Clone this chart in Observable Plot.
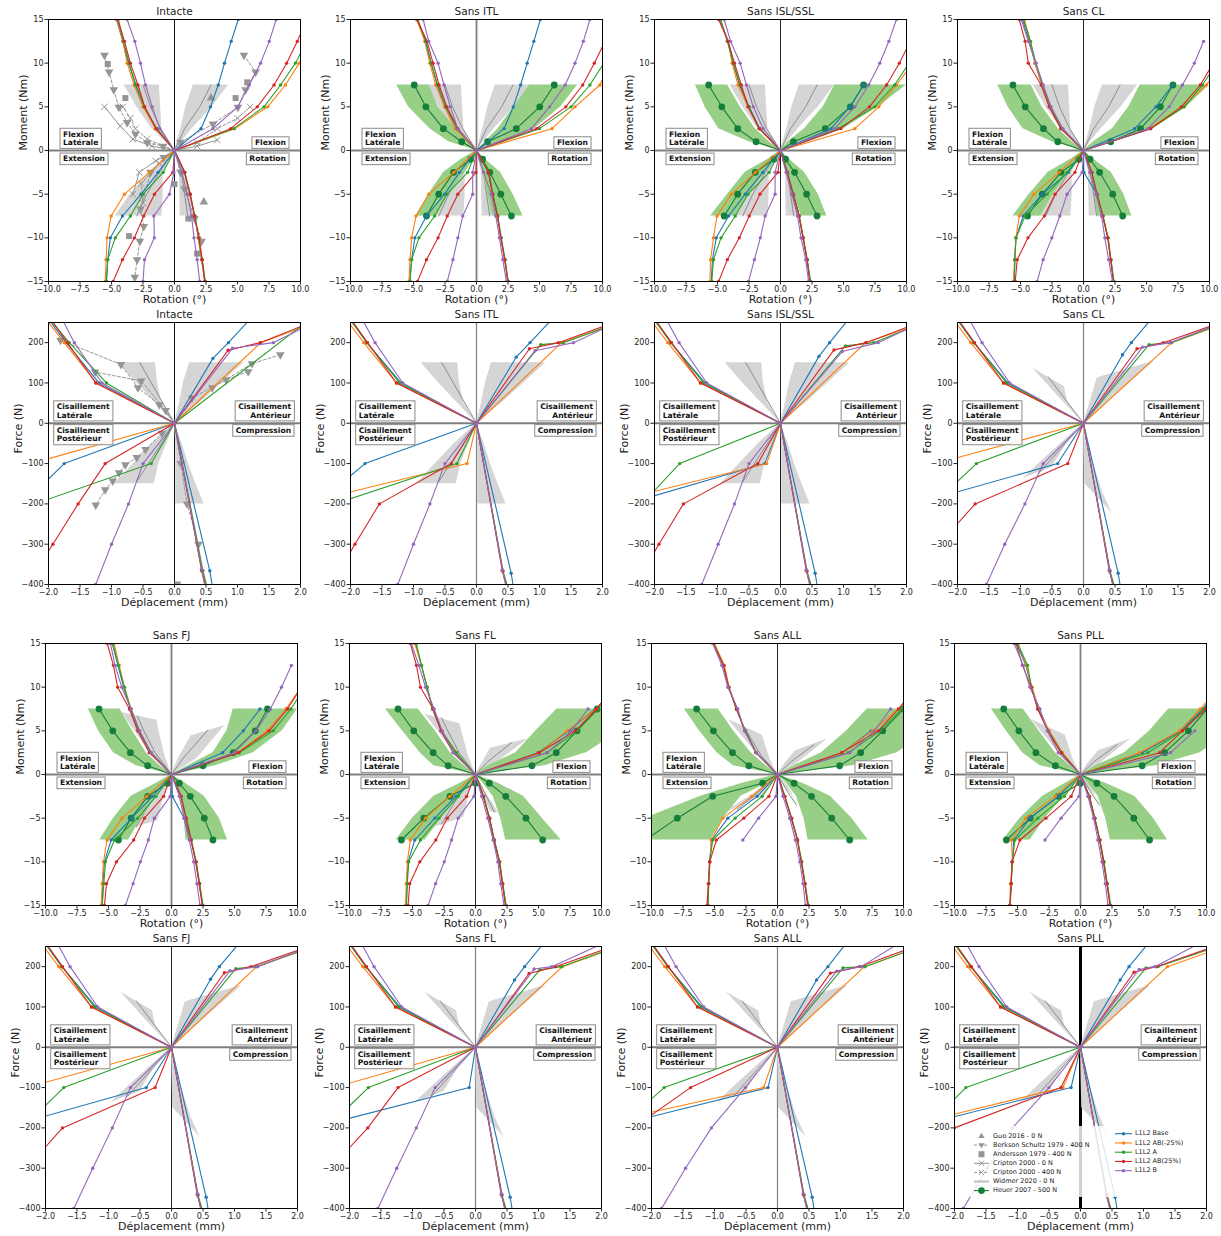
<!DOCTYPE html>
<html lang="fr"><head><meta charset="utf-8"><title>Courbes moment / force</title>
<script src="https://cdn.jsdelivr.net/npm/d3@7"></script>
<script src="https://cdn.jsdelivr.net/npm/@observablehq/plot@0.6"></script>
<style>
html,body{margin:0;padding:0;background:#fff;}
#root{position:relative;width:1221px;height:1236px;overflow:hidden;font-family:"DejaVu Sans",sans-serif;}
#root svg{position:absolute;}
</style></head><body><div id="root"></div>
<script>
// ---------------- labels / ticks ----------------
const modelNames = ["L1L2 Base","L1L2 AB(-25%)","L1L2 A","L1L2 AB(25%)","L1L2 B"];
const modelColors = ["#1f77b4","#ff7f0e","#2ca02c","#d62728","#9467bd"];
const litNames = ["Guo 2016 - 0 N","Berkson Schultz 1979 - 400 N","Andersson 1979 - 400 N","Cripton 2000 - 0 N","Cripton 2000 - 400 N","Widmer 2020 - 0 N","Heuer 2007 - 500 N"];
const rotationTicks = [-10,-7.5,-5,-2.5,0,2.5,5,7.5,10];
const momentTicks = [-15,-10,-5,0,5,10,15];
const dispTicks = [-2,-1.5,-1,-0.5,0,0.5,1,1.5,2];
const forceTicks = [-400,-300,-200,-100,0,100,200];
const momentLevels = [2.5,5,7.5,10,12.5,15];
const heuerLevels = [1,2.5,5,7.5];
const bandLevels = [0,1,2.5,5,7.5];
const momentBoxUp = ["Flexion\nLatérale","Flexion"];
const momentBoxDown = ["Extension","Rotation"];
const forceBoxUp = ["Cisaillement\nLatérale","Cisaillement\nAntérieur"];
const forceBoxDown = ["Cisaillement\nPostérieur","Compression"];

// ---------------- moment data (x at momentLevels; rows = models) ----------------
const intacte_FL = [[-1.45,-2.4,-3.05,-3.65,-4.1,-4.6],[-1.5,-2.5,-3.2,-3.76,-4.1,-4.56],[-1.4,-2.4,-3.1,-3.6,-4.05,-4.5],[-1.46,-2.36,-2.9,-3.5,-3.97,-4.48],[-1.17,-1.77,-2.3,-2.7,-3.15,-3.76]];
const intacte_EX = [[-1.3,-2.65,-4.13,-5.09,-5.3,-5.4],[-1.99,-3.97,-5.03,-5.35,-5.43,-5.5],[-0.9,-2.5,-3.5,-4.7,-5.3,-5.4],[-0.13,-1.59,-2.44,-3.18,-4.13,-4.87],[-0.05,-0.4,-1.64,-1.6,-2.38,-2.5]];
const intacte_FX = [[2.1,2.86,3.47,3.97,4.5,5.06],[4.77,7.4,8.8,9.9,11,12],[4.7,7.1,8.42,9.6,10.5,11.3],[4.45,6.57,7.9,8.9,9.75,10.5],[3.05,5.03,5.93,6.83,7.52,8.07]];
const intacte_RO = [[0.8,1.2,1.6,1.9,2.15,2.4],[0.8,1.2,1.6,1.88,2.15,2.42],[0.82,1.25,1.62,1.92,2.2,2.45],[0.8,1.25,1.58,1.95,2.2,2.4],[0.6,1.0,1.35,1.55,1.8,2.0]];

const itl_FL = [[-1.5,-2.45,-3.1,-3.6,-4.0,-4.7],[-1.7,-2.53,-3.24,-3.71,-4.1,-4.75],[-1.55,-2.45,-3.1,-3.6,-4.05,-4.65],[-1.48,-2.35,-2.97,-3.45,-3.92,-4.73],[-1.48,-2.08,-2.58,-3.05,-3.79,-4.23]];
const itl_EX = [[-1.35,-2.53,-3.97,-4.89,-5.15,-5.28],[-1.8,-3.79,-4.8,-5.15,-5.28,-5.36],[-0.7,-2.35,-3.32,-4.57,-5.15,-5.28],[-0.04,-1.48,-2.32,-3.05,-3.97,-4.68],[-0.3,-0.3,-1.09,-1.48,-1.87,-2.32]];
const itl_FX = [[2.19,2.92,3.5,4.02,4.55,5.07],[5.99,7.82,9.79,10.6,11.5,12.5],[5.0,7.5,9.0,10.1,11,12],[4.76,7.09,8.43,9.35,10.2,11],[4.36,5.8,7.04,7.82,8.48,9.0]];
const itl_RO = [[0.96,1.27,1.66,1.93,2.24,2.5],[0.96,1.27,1.66,1.93,2.24,2.5],[0.98,1.3,1.7,1.97,2.27,2.52],[0.95,1.27,1.66,1.93,2.24,2.48],[0.56,1.17,1.53,1.82,2.09,2.37]];

const isl_FL = [[-1.65,-2.5,-3.25,-3.75,-4.15,-4.8],[-1.69,-2.58,-3.37,-3.84,-4.16,-4.85],[-1.65,-2.5,-3.2,-3.75,-4.22,-4.75],[-1.69,-2.58,-3.11,-3.65,-4.16,-4.91],[-1.37,-2.16,-2.7,-3.2,-3.96,-4.47]];
const isl_EX = [[-1.4,-2.8,-4.12,-5.1,-5.4,-5.5],[-2.0,-3.9,-5.04,-5.32,-5.55,-5.6],[-0.9,-2.58,-3.59,-4.72,-5.32,-5.45],[-0.2,-1.63,-2.48,-3.27,-4.22,-4.91],[-0.43,-0.43,-1.22,-1.6,-2.07,-2.54]];
const isl_FX = [[4.0,5.5,6.6,null,null,null],[5.9,7.8,9.2,10.5,11.5,12.5],[4.57,7.47,9.05,10.2,11.2,12],[4.79,7.06,8.42,9.43,10.3,11],[4.3,5.9,7.0,7.88,8.6,9.2]];
const isl_RO = [[0.52,1.0,1.47,1.79,2.1,2.35],[0.52,1.0,1.47,1.79,2.1,2.35],[0.55,1.03,1.5,1.82,2.13,2.38],[0.52,1.0,1.47,1.79,2.1,2.33],[0.45,0.9,1.35,1.63,2.0,2.23]];

const cl_FL = [[-1.75,-2.65,-3.3,-3.85,-4.3,-4.85],[-1.8,-2.7,-3.3,-3.85,-4.2,-4.7],[-1.75,-2.6,-3.25,-3.77,-4.22,-4.75],[-1.79,-2.73,-3.36,-4.38,-4.63,-5.1],[-1.63,-2.58,-3.2,-3.77,-4.38,-4.94]];
const cl_EX = [[-1.2,-3.27,-4.79,-5.36,-5.45,-5.5],[-1.94,-3.93,-5.1,-5.36,-5.48,-5.55],[-1.3,-2.9,-4.63,-5.36,-5.45,-5.5],[-0.68,-2.26,-3.11,-4.41,-5.26,-5.42],[-0.1,-1.3,-1.88,-2.51,-3.2,-3.68]];
const cl_FX = [[4.06,5.74,7.07,null,null,null],[5.2,7.85,9.75,11,12,13],[5.33,8.0,9.43,10.6,11.6,12.5],[5.33,7.76,9.27,10.3,11.2,12],[5.1,6.8,7.85,8.8,9.53,null]];
const cl_RO = [[0.03,1.06,1.53,1.94,2.16,2.39],[0.65,1.06,1.53,1.94,2.16,2.39],[0.67,1.08,1.55,1.96,2.18,2.42],[0.65,1.06,1.53,1.92,2.16,2.37],[0.5,1.0,1.44,1.69,2.0,2.3]];

const fj_FL = [[-1.65,-2.6,-3.25,-3.8,-4.25,-4.7],[-1.6,-2.55,-3.2,-3.74,-4.15,-4.55],[-1.6,-2.6,-3.25,-3.74,-4.21,-4.66],[-1.76,-2.68,-3.34,-4.27,-4.61,-5.1],[-1.62,-2.52,-3.21,-3.95,-4.48,-4.85]];
const fj_EX = [[-1.5,-3.16,-4.79,-5.32,-5.45,-5.5],[-1.97,-3.92,-5.11,-5.4,-5.5,-5.58],[-1.23,-2.68,-4.53,-5.24,-5.37,-5.5],[-0.62,-2.15,-3.0,-4.37,-5.16,-5.32],[-0.1,-1.36,-1.84,-2.47,-3.05,-3.66]];
const fj_FX = [[4.06,5.7,7.02,null,null,null],[5.24,7.6,9.08,10.3,11.3,12.2],[5.38,8.07,9.47,10.6,11.6,12.5],[5.3,7.75,9.2,10.3,11.3,12.2],[4.98,6.7,7.84,8.73,9.52,null]];
const fj_RO = [[0.07,1.0,1.55,1.94,2.2,2.47],[0.75,1.15,1.55,1.94,2.2,2.47],[0.77,1.18,1.58,1.97,2.24,2.5],[0.75,1.15,1.55,1.92,2.2,2.44],[0.62,1.0,1.41,1.76,2.02,2.26]];

const fl_FL = [[-1.6,-2.7,-3.4,-3.85,-4.3,-4.75],[-1.55,-2.7,-3.4,-3.84,-4.29,-4.82],[-1.5,-2.7,-3.41,-3.84,-4.29,-4.69],[-1.77,-2.75,-3.36,-4.37,-4.69,-5.17],[-1.77,-2.64,-3.28,-3.97,-4.5,-5.09]];
const fl_EX = [[-1.55,-3.23,-4.82,-5.35,-5.43,-5.5],[-2.03,-3.97,-5.17,-5.41,-5.49,-5.56],[-1.37,-2.9,-4.37,-5.3,-5.41,-5.48],[-0.7,-2.24,-3.15,-4.42,-5.22,-5.35],[-0.12,-1.37,-1.9,-2.48,-3.17,-3.76]];
const fl_FX = [[4.96,7.4,9.5,null,null,null],[5.06,7.26,9.58,11,12,13],[5.67,8.06,9.74,11,12,13],[5.06,7.93,9.6,11,12,13],[5.72,7.61,8.94,null,null,null]];
const fl_RO = [[0.62,1.1,1.47,1.9,2.14,2.4],[0.62,1.1,1.47,1.9,2.14,2.4],[0.65,1.13,1.5,1.93,2.17,2.43],[0.62,1.1,1.47,1.88,2.14,2.38],[0.49,0.97,1.4,1.77,2.0,2.27]];

const all_FL = [[-1.7,-2.56,-3.25,-3.86,-4.26,-5.05],[-1.72,-2.58,-3.22,-3.84,-4.22,-5.0],[-1.68,-2.54,-3.27,-3.88,-4.3,-5.07],[-1.7,-2.6,-3.25,-3.88,-4.28,-5.12],[-1.69,-2.62,-3.15,-3.94,-4.42,-5.14]];
const all_EX = [[-1.61,-3.94,-5.22,-5.4,-5.48,-5.53],[-2.03,-4.34,-5.27,-5.35,-5.48,-5.53],[-1.21,-3.36,-5.14,-5.38,-5.45,-5.52],[-0.68,-2.67,-4.85,-5.38,-5.48,-5.6],[-0.12,-1.5,-2.75,null,null,null]];
const all_FX = [[5.14,7.42,null,null,null,null],[5.14,7.53,9.6,11,12,13],[5.62,8.14,9.87,11,12,13],[5.09,8.0,9.6,11,12,13],[5.75,7.69,8.97,null,null,null]];
const all_RO = [[0.57,1.1,1.58,1.9,2.17,2.43],[0.57,1.1,1.58,1.9,2.17,2.43],[0.6,1.13,1.6,1.93,2.2,2.46],[0.57,1.1,1.58,1.88,2.17,2.4],[0.44,0.97,1.42,1.77,2.03,2.22]];

const pll_FL = [[-1.49,-2.55,-3.35,-3.88,-4.34,-5.08],[-1.45,-2.5,-3.3,-3.85,-4.3,-4.95],[-1.52,-2.58,-3.38,-3.9,-4.2,-5.0],[-1.55,-2.6,-3.4,-3.92,-4.6,-5.12],[-1.76,-2.63,-3.22,-4.02,-4.55,-5.27]];
const pll_EX = [[-1.76,-4.02,-5.29,-5.43,-5.5,-5.58],[-2.02,-4.34,-5.48,-5.4,-5.56,-5.61],[-1.28,-3.4,-5.21,-5.4,-5.5,-5.6],[-0.74,-2.74,-4.81,-5.43,-5.5,-5.6],[-0.11,-1.54,-2.82,null,null,null]];
const pll_FX = [[4.9,7.95,9.7,11,12,13],[4.68,7.87,9.5,11,12,13],[5.35,8.1,9.8,11,12,13],[6.28,8.09,9.95,11,12,13],[7.15,9.07,null,null,null,null]];
const pll_RO = [[0.69,1.12,1.52,1.84,2.1,2.37],[0.69,1.12,1.52,1.84,2.1,2.37],[0.72,1.15,1.55,1.87,2.13,2.4],[0.69,1.12,1.52,1.82,2.1,2.34],[0.59,1.04,1.38,1.7,1.97,2.18]];

// ---------------- Heuer 2007 (x at heuerLevels; UL, LL, UR, LR) ----------------
const heuer_itl = [[-1.17,-2.63,-4.02,-4.94],[-0.46,-1.82,-3.0,-3.97],[0.88,3.16,5.02,6.17],[0.48,1.06,1.93,2.77]];
const heuer_isl = [[-1.94,-3.4,-4.66,-5.7],[-0.52,-2.0,-3.4,-4.47],[1.03,3.55,5.54,6.59],[0.4,1.12,2.07,2.9]];
const heuer_cl = [[-2.04,-3.18,-4.63,-5.6],[-0.36,-1.79,-3.27,-4.44],[2.16,4.53,6.1,7.1],[0.52,1.28,2.32,3.11]];
const heuer_fj = [[-1.89,-3.26,-4.66,-5.75],[-0.3,-1.89,-3.2,-4.21],[2.5,4.9,6.65,7.62],[0.62,1.49,2.6,3.29]];
const heuer_fl = [[-2.17,-3.36,-4.9,-6.15],[0,-2.03,-4.1,-5.88],[4.48,6.41,8.06,9.66],[1.1,2.4,4.0,5.33]];
const heuer_all = [[-2.27,-3.57,-5.09,-6.42],[-1.18,-5.14,-7.95,-10.5],[4.93,6.6,8.35,10],[1.31,2.7,4.3,5.73]];
const heuer_pll = [[-1.99,-3.54,-4.89,-6.09],[0,-1.76,-3.99,-5.88],[4.89,6.68,8.56,10.05],[1.3,2.66,4.23,5.48]];

// Heuer range (x at bandLevels): UL out/in, LL out/in, UR in/out, LR in/out
const green_itl = [[0,-2.2,-3.7,-5.4,-6.33],[0,-0.7,-1.66,-3.05,-3.76],[0,-1.2,-2.6,-3.8,-4.8],[0,-0.2,-0.9,-2.2,-3.2],[0,0.7,1.71,2.97,4.23],[0,2.2,4.6,6.7,8.03],[0,0.2,0.5,0.9,1.27],[0,0.7,1.9,2.9,3.7]];
const green_isl = [[0,-2.5,-4.9,-6.0,-6.75],[0,-0.9,-2.0,-3.2,-4.2],[0,-1.0,-2.8,-4.2,-5.55],[0,-0.3,-1.2,-2.5,-3.6],[0,0.6,1.9,3.4,4.3],[0,2.2,5.0,7.8,10],[0,0.2,0.5,1.1,1.63],[0,0.7,1.9,3.0,3.68]];
const green_cl = [[0,-2.5,-4.8,-6.0,-6.8],[0,-0.9,-2.0,-3.3,-4.15],[0,-1.0,-2.8,-4.3,-5.6],[0,-0.2,-1.1,-2.4,-3.4],[0,0.8,2.3,3.6,4.5],[0,2.5,5.5,8.2,10],[0,0.2,0.5,0.9,1.1],[0,0.8,2.2,3.2,3.84]];
const green_fj = [[0,-2.8,-4.6,-5.8,-6.6],[0,-0.9,-2.0,-3.1,-4.1],[0,-1.2,-3.2,-4.6,-5.7],[0,-0.3,-1.2,-2.4,-3.4],[0,1.3,3.3,4.4,4.9],[0,3.5,6.5,8.8,10],[0,0.3,0.7,1.0,1.15],[0,1.1,2.6,3.8,4.45]];
const green_fl = [[0,-3.3,-4.4,-5.8,-7.15],[0,-0.9,-2.0,-3.2,-4.55],[0,-1.2,-3.3,-5.0,-6.3],[0,-0.3,-1.3,-2.7,-4.0],[0,1.0,3.2,4.8,6.47],[0,5.5,8.8,11.5,13],[0,0.6,1.4,2.0,2.4],[0,1.8,3.8,5.3,6.8]];
const green_all = [[0,-3.5,-4.8,-6.2,-7.4],[0,-0.9,-2.1,-3.5,-4.7],[0,-2.8,-6.1,-10.5,-13],[0,-0.8,-2.9,-4.3,-5.3],[0,1.3,3.5,5.5,7.13],[0,6.0,9.5,12,13],[0,0.7,1.5,2.1,2.43],[0,2.0,4.2,5.9,7.2]];
const green_pll = [[0,-3.2,-4.6,-5.9,-7.07],[0,-0.8,-2.0,-3.3,-4.55],[0,-1.2,-3.0,-4.8,-6.14],[0,-0.3,-1.3,-2.8,-4.0],[0,1.2,3.5,5.5,7.0],[0,6,9.5,12,13],[0,0.6,1.4,2.0,2.37],[0,2.0,4.3,5.8,6.9]];

// ---------------- Widmer 2020 ranges (rows [x1,y1,x2,y2]) and means ----------------
const grayMomA = [
 [[0,0,0,0],[-1.8,2.5,-1.0,2.5],[-3.0,5,-1.1,5],[-4.0,7.5,-1.2,7.5]],
 [[0,0,0,0],[0.5,2.5,1.4,2.5],[0.9,5,3.0,5],[1.5,7.5,4.3,7.5]],
 [[0,0,0,0],[-2.0,-2.5,-0.9,-2.5],[-3.5,-5,-0.9,-5],[-4.7,-7.5,-1.0,-7.5]],
 [[0,0,0,0],[0.4,-2.5,0.9,-2.5],[0.42,-5,1.2,-5],[0.45,-7.5,1.5,-7.5]]];
const grayMomA_mean = [[[0,0],[-1.1,2.5],[-1.9,5],[-2.5,7.5]],[[0,0],[0.8,2.5],[2.0,5],[2.9,7.5]],[[0,0],[-1.2,-2.5],[-2.2,-5],[-3.0,-7.5]],[[0,0],[0.55,-2.5],[0.8,-5],[1.05,-7.5]]];
const grayMomB = [
 [[0,0,0,0],[-1.6,2.3,-0.55,2.3],[-2.95,5,-1.0,5],[-3.95,7.1,-1.15,6.2]],
 [[0,0,0,0],[0.6,2,2.0,1.8],[1.55,4.4,4.24,5.6]],
 [[0,0,0,0],[-1.5,-2.5,-0.6,-2.5],[-3.69,-6.4,-1.1,-5.3]],
 [[0,0,0,0],[0.5,-2,0.8,-2],[1.2,-4.5,1.8,-4.7]]];
const grayMomB_mean = [[[0,0],[-1.3,2.5],[-2.2,5],[-2.7,6.7]],[[0,0],[1.0,2],[2.9,5.1]],[[0,0],[-1.6,-3],[-2.8,-6]],[[0,0],[0.7,-2],[1.5,-4.6]]];
const grayMomC = [
 [[0,0,0,0],[-1.6,2.3,-0.6,2.3],[-3.0,5,-1.1,5],[-4.0,6.9,-1.24,5.8]],
 [[0,0,0,0],[0.6,1.5,1.8,1.5],[1.2,3.0,4.2,4.1]],
 [[0,0,0,0],[-1.5,-2.5,-0.5,-2.2],[-3.36,-6.1,-0.92,-4.9]],
 [[0,0,0,0],[0.5,-2,0.8,-2],[1.2,-4.3,1.82,-4.4]]];
const grayMomC_mean = [[[0,0],[-1.3,2.5],[-2.2,5],[-2.7,6.5]],[[0,0],[1.0,1.5],[2.9,3.7]],[[0,0],[-1.5,-2.8],[-2.7,-5.7]],[[0,0],[0.7,-2],[1.5,-4.3]]];
const grayMomD = [
 [[0,0,0,0],[-1.6,2.3,-0.6,1.8],[-3.9,6.3,-1.2,4.5]],
 [[0,0,0,0],[0.6,1.3,1.5,1.2],[1.4,2.7,4.0,4.1]],
 [[0,0,0,0],[-2.0,-2.3,-0.6,-1.5],[-4.5,-4.6,-1.2,-2.5]],
 [[0,0,0,0],[0.6,-1.5,0.9,-1.5],[1.2,-2.5,1.9,-4.3]]];
const grayMomD_mean = [[[0,0],[-1.3,2.2],[-2.6,5.3]],[[0,0],[1.1,1.5],[2.9,3.4]],[[0,0],[-1.5,-2],[-3.2,-4]],[[0,0],[0.8,-2],[1.5,-3.5]]];

const grayForceA = [
 [[0,0,0,0],[-0.3,50,-0.2,50],[-0.6,100,-0.27,100],[-0.88,150,-0.3,150]],
 [[0,0,0,0],[0.08,50,0.4,50],[0.14,100,0.75,100],[0.24,150,1.1,150]],
 [[0,0,0,0],[-0.35,-50,-0.12,-50],[-0.65,-100,-0.25,-100],[-0.95,-150,-0.32,-150]],
 [[0,0,0,0],[0.02,-50,0.12,-50],[0.02,-100,0.22,-100],[0.02,-150,0.34,-150],[0.02,-200,0.47,-200]]];
const grayForceA_mean = [[[0,0],[-0.55,150]],[[0,0],[-0.6,-145]]];
const grayForceB = [
 [[0,0,0,0],[-0.42,70,-0.25,50],[-0.81,137,-0.3,90]],
 [[0,0,0,0],[0.1,50,0.55,75],[0.22,113,1.12,154]],
 [[0,0,0,0],[-0.5,-70,-0.25,-45],[-0.96,-137,-0.5,-110]],
 [[0,0,0,0],[0.01,-80,0.12,-80],[0.02,-150,0.3,-170],[0.45,-222,0.45,-222]]];
const grayForceB_mean = [[[0,0],[-0.56,115]],[[0,0],[-0.7,-122]]];

// ---------------- force data ([x, y] points; rows = models) ----------------
const intacte_LS = [[[-1.2,100],[-1.72,200],[-2.2,300]],[[-1.24,100],[-1.75,200],[-2.25,300]],[[-1.08,100],[-1.67,200],[-2.2,300]],[[-1.25,100],[-1.7,200],[-2.15,300]],[[-1.15,100],[-1.59,200],[-1.92,300]]];
const intacte_PS = [[[-1.75,-100],[-2.4,-200]],[[-2.27,-100]],[[-0.37,-100],[-2.22,-200]],[[-1.1,-100],[-1.53,-200],[-1.93,-300],[-2.35,-400]],[[-0.5,-100],[-0.73,-200],[-1.0,-300],[-1.25,-400]]];
const intacte_AS = [[[0.61,161],[0.855,200],[1.45,300]],[[1.37,200],[2.5,265]],[[2.5,300]],[[0.85,181],[1.36,200],[2.4,265]],[[0.92,186],[1.57,200],[2.4,265]]];
const intacte_CP = [[[0.56,-366],[0.62,-420]],[[0.44,-368],[0.52,-420]],[[0.45,-365],[0.54,-420]],[[0.43,-365],[0.52,-420]],[[0.43,-362],[0.5,-420]]];

const shear_LS = [[[-1.2,100],[-1.74,200],[-2.2,300]],[[-1.27,100],[-1.79,200],[-2.27,300]],[[-1.22,100],[-1.74,200],[-2.2,300]],[[-1.27,100],[-1.73,200],[-2.18,300]],[[-1.17,100],[-1.61,200],[-1.96,300]]];
const comp_CP = [[[0.55,-372],[0.6,-420]],[[0.42,-367],[0.51,-420]],[[0.42,-366],[0.52,-420]],[[0.41,-366],[0.5,-420]],[[0.41,-363],[0.49,-420]]];

const itl_PS = [[[-1.77,-100],[-2.53,-200]],[[-0.15,-100],[-2.79,-200]],[[-0.31,-100],[-2.25,-200]],[[-0.4,-100],[-1.54,-200],[-1.93,-300],[-2.3,-400]],[[-0.5,-100],[-0.74,-200],[-1.0,-300],[-1.25,-400]]];
const itl_AS = [[[0.63,164],[0.85,200],[1.45,300]],[[1.35,200],[2.5,262]],[[1.02,195],[1.38,200],[2.4,258]],[[0.84,185],[1.3,200],[2.4,262]],[[0.93,180],[1.54,200],[2.4,262]]];
const isl_PS = [[[-0.25,-100],[-2.44,-200]],[[-0.22,-100],[-2.8,-200]],[[-1.6,-100],[-2.2,-200]],[[-0.36,-100],[-1.54,-200],[-1.93,-300],[-2.3,-400]],[[-0.5,-100],[-0.73,-200],[-0.99,-300],[-1.25,-400]]];
const isl_AS = [[[0.61,166],[0.78,200],[1.3,300]],[[1.35,200],[2.5,262]],[[1.03,192],[1.48,200],[2.4,258]],[[0.85,182],[1.36,200],[2.4,262]],[[0.98,178],[1.55,200],[2.4,262]]];
const cl_PS = [[[-0.41,-100],[-2.68,-200]],[[-2.35,-100]],[[-1.7,-100],[-2.37,-200]],[[-0.25,-100],[-1.72,-200],[-2.29,-300]],[[-0.64,-100],[-0.93,-200],[-1.25,-300],[-1.54,-400]]];
const cl_AS = [[[0.62,170],[0.76,200],[1.3,300]],[[1.4,200],[2.5,262]],[[1.04,195],[1.39,200],[2.4,258]],[[0.85,185],[1.27,200],[2.4,262]],[[0.94,189],[1.37,200],[2.4,262]]];
const fj_PS = [[[-0.4,-100],[-2.66,-200]],[[-2.3,-100]],[[-1.71,-100],[-2.36,-200]],[[-0.26,-100],[-1.73,-200],[-2.3,-300]],[[-0.65,-100],[-0.94,-200],[-1.25,-300],[-1.55,-400]]];
const fj_AS = [[[0.62,169],[0.76,200],[1.3,300]],[[1.35,200],[2.5,262]],[[1.02,195],[1.34,200],[2.4,258]],[[0.84,185],[1.26,200],[2.4,262]],[[0.93,190],[1.37,200],[2.4,262]]];
const fl_PS = [[[-0.1,-100],[-2.6,-200]],[[-2.25,-100]],[[-1.7,-100],[-2.36,-200]],[[-1.23,-100],[-1.71,-200],[-2.3,-300]],[[-0.64,-100],[-0.94,-200],[-1.25,-300],[-1.55,-400]]];
const fl_AS = [[[0.62,167],[0.78,200],[1.3,300]],[[1.38,200],[2.5,262]],[[1.02,192],[1.36,200],[2.4,258]],[[0.85,183],[1.27,200],[2.4,262]],[[0.93,194],[1.21,200],[2.2,270]]];
const all_PS = [[[-0.15,-100],[-2.72,-200]],[[-0.22,-100],[-3.14,-200]],[[-1.8,-100],[-2.51,-200]],[[-1.38,-100],[-2.29,-200]],[[-0.51,-100],[-1.05,-200],[-1.46,-300],[-1.84,-400]]];
const all_AS = [[[0.62,167],[0.8,200],[1.3,300]],[[1.38,200],[2.5,262]],[[1.04,197],[1.39,200],[2.4,258]],[[0.84,184],[1.3,200],[2.4,262]],[[0.94,189],[1.33,200],[2.1,275]]];
const pll_PS = [[[-0.15,-100],[-2.72,-200]],[[-0.28,-100],[-2.89,-200]],[[-1.82,-100],[-2.46,-200]],[[-0.31,-100],[-2.0,-200]],[[-0.5,-100],[-1.08,-200],[-1.48,-300],[-1.86,-400]]];
const pll_AS = [[[0.63,167],[0.77,200],[1.3,300]],[[1.38,200],[2.5,262]],[[1.04,197],[1.23,200],[2.4,262]],[[0.85,186],[1.2,200],[2.4,265]],[[0.93,193],[1.18,200],[2.1,275]]];

// ---------------- literature (intact only) ----------------
const berkson_M = [
 [[0,0],[-0.9,0.5],[-2.17,0.9],[-3.1,1.9],[-3.76,3.2],[-4.42,4.96],[-4.82,6.95],[-5.19,9.0],[-5.56,10.9]],
 [[0,0],[0.48,0.94],[3.05,3.04],[5.03,4.96],[5.64,6.95],[6.44,9.0],[5.51,10.9]],
 [[0,0],[-0.85,-0.8],[-1.9,-2.5],[-2.7,-6.7],[-2.44,-8.7],[-2.75,-10.4],[-2.97,-12.5],[-3.15,-14.5]],
 [[0,0],[0.48,-2.5],[0.8,-4.4],[1.6,-7.8],[2.15,-10.4]]];
const cripton0_M = [[[0,0],[-1.8,0.5],[-3.3,1.3],[-4.3,2.8],[-5.56,5.0]],[[0,0],[1.8,0.5],[3.4,1.2]],[[0,0],[-1.5,-1.2],[-2.8,-2.5],[-3.3,-5]]];
const cripton400_M = [[[0,0],[-2.17,1.3],[-3.1,2.5],[-3.5,3.7],[-4.1,5.0]],[[0,0],[1.8,0.9],[3.4,2.5],[5.0,3.7],[6.0,5.0]],[[0,0],[-1.2,-1.5],[-2.65,-3.8],[-2.5,-6.0]]];
const andersson_M = [[-5.3,9.9],[-3.9,6.0],[5.77,7.8],[4.85,6.0],[-3.6,-9.8],[0,-3.85],[1.1,-7.8],[1.8,-11.8]];
const guo_M = [[2.33,-5.9],[2.9,6.0]];
const berkson_F = [
 [[0,0],[-0.24,46],[-0.58,88],[-0.85,146],[-1.81,206]],
 [[0,0],[-0.14,32],[-0.53,105],[-1.26,127]],
 [[0,0],[0.6,88],[1.23,148],[1.68,170]],
 [[0,0],[0.28,63],[0.82,108],[1.17,128]],
 [[0,0],[-0.2,-25],[-0.46,-65],[-0.6,-85],[-0.78,-103],[-0.88,-123],[-0.98,-143],[-1.1,-165],[-1.25,-203]],
 [[0,0],[0.1,-100],[0.2,-200],[0.38,-300]]];
const andersson_F = [[0.05,-400]];

// ---------------- rendering ----------------
const root = document.getElementById("root");
const LIT = "#959595", GRAYF = "#d5d5d5", GREENF = "#98cf86", HEUER = "#167e3b";
const fmt1 = d => (d < 0 ? "\u2212" : "") + Math.abs(d).toFixed(1);
const fmt0 = d => (d < 0 ? "\u2212" : "") + Math.abs(d);
const X = d => d[0], Y = d => d[1];

function bandMarks(quads, fill) {
  return quads.map(q => Plot.area(q, {x1: d => d[0], y1: d => d[1], x2: d => d[2], y2: d => d[3], fill, clip: true}));
}
function meanMarks(quads) {
  return quads.map(q => Plot.line(q, {x: X, y: Y, stroke: "#8c8c8c", strokeWidth: 1, clip: true}));
}
function greenQuads(g) {
  const pairs = [[g[0], g[1], 1], [g[2], g[3], -1], [g[4], g[5], 1], [g[6], g[7], -1]];
  return pairs.map(([a, b, s]) => bandLevels.map((y, i) => [a[i], s * y, b[i], s * y]));
}
function heuerMarks(h) {
  const sg = [1, -1, 1, -1];
  const out = [];
  h.forEach((xs, qi) => {
    const pts = [[0, 0]].concat(xs.map((x, i) => [x, sg[qi] * heuerLevels[i]]));
    out.push(Plot.line(pts, {x: X, y: Y, stroke: HEUER, strokeWidth: 1.1, clip: true}));
    out.push(Plot.dot(pts.slice(1), {x: X, y: Y, r: 3.4, fill: HEUER, clip: true}));
  });
  return out;
}
function momentRows(Qs, m) {
  const sg = [1, -1, 1, -1];
  const rows = [];
  Qs.forEach((Q, qi) => {
    rows.push({x: 0, y: 0, k: qi});
    Q[m].forEach((x, i) => { if (x != null) rows.push({x, y: sg[qi] * momentLevels[i], k: qi}); });
  });
  return rows;
}
function forceRows(Qs, m) {
  const rows = [];
  Qs.forEach((Q, qi) => {
    rows.push({x: 0, y: 0, k: qi});
    Q[m].forEach(([x, y]) => rows.push({x, y, k: qi}));
  });
  return rows;
}
function modelMarks(rowsFn) {
  const out = [];
  for (let m = 0; m < 5; m++) {
    const rows = rowsFn(m);
    out.push(Plot.line(rows, {x: "x", y: "y", z: "k", stroke: modelColors[m], strokeWidth: 1.1, clip: true}));
    out.push(Plot.dot(rows, {x: "x", y: "y", r: 1.7, fill: modelColors[m], clip: true}));
  }
  return out;
}
function litLines(list, dashed, symbol, rot) {
  const out = [];
  list.forEach(p => {
    out.push(Plot.line(p, {x: X, y: Y, stroke: LIT, strokeWidth: 1, strokeDasharray: dashed ? "3,2" : null, clip: true}));
    if (symbol === "times") out.push(Plot.dot(p.slice(1), {x: X, y: Y, symbol: "times", r: 3, stroke: LIT, strokeWidth: 1, clip: true}));
    else out.push(Plot.dot(p.slice(1), {x: X, y: Y, symbol, rotate: rot, r: 3.2, fill: LIT, clip: true}));
  });
  return out;
}
function boxMarks(kind) {
  const M = kind === "M";
  const xl = M ? -8.85 : -1.87, xr = M ? 8.85 : 1.85, yu = M ? 0.62 : 14, yd = M ? -0.55 : -9;
  const up = M ? momentBoxUp : forceBoxUp, dn = M ? momentBoxDown : forceBoxDown;
  const common = {fontSize: 7.6, fontWeight: "bold", lineHeight: 1.12, fill: "#111", ariaDescription: "qbox", ariaLabel: () => "qbox"};
  return [
    Plot.text([up[0]], {...common, x: xl, y: yu, text: d => d, textAnchor: "start", lineAnchor: "bottom"}),
    Plot.text([up[1]], {...common, x: xr, y: yu, text: d => d, textAnchor: "end", lineAnchor: "bottom"}),
    Plot.text([dn[0]], {...common, x: xl, y: yd, text: d => d, textAnchor: "start", lineAnchor: "top"}),
    Plot.text([dn[1]], {...common, x: xr, y: yd, text: d => d, textAnchor: "end", lineAnchor: "top"})
  ];
}
function addBoxes(svg) {
  const texts = new Set();
  svg.querySelectorAll('text[aria-label="qbox"]').forEach(t => texts.add(t));
  svg.querySelectorAll('g[aria-description="qbox"] text').forEach(t => texts.add(t));
  texts.forEach(t => {
    const b = t.getBBox();
    const r = document.createElementNS("http://www.w3.org/2000/svg", "rect");
    r.setAttribute("x", b.x - 3); r.setAttribute("y", b.y - 1.3);
    r.setAttribute("width", b.width + 6); r.setAttribute("height", b.height + 2.6);
    r.setAttribute("fill", "#fff"); r.setAttribute("fill-opacity", "0.85");
    r.setAttribute("stroke", "#8a8a8a"); r.setAttribute("stroke-width", "1");
    const tr = t.getAttribute("transform"); if (tr) r.setAttribute("transform", tr);
    t.parentNode.insertBefore(r, t);
  });
}
function drawPanel(kind, cfg, left, top) {
  const M = kind === "M";
  const marks = [];
  marks.push(Plot.ruleY([0], {stroke: "#7f7f7f", strokeWidth: 2}));
  marks.push(Plot.ruleX([0], {stroke: cfg.vline[0], strokeWidth: cfg.vline[1]}));
  marks.push(...bandMarks(cfg.gray, GRAYF));
  marks.push(...meanMarks(cfg.mean));
  if (cfg.green) marks.push(...bandMarks(greenQuads(cfg.green), GREENF));
  if (cfg.lit && M) {
    marks.push(...litLines(cripton0_M, false, "times"));
    marks.push(...litLines(cripton400_M, true, "times"));
    marks.push(...litLines(berkson_M, true, "triangle", 180));
    marks.push(Plot.dot(andersson_M, {x: X, y: Y, symbol: "square", r: 3.4, fill: LIT, clip: true}));
    marks.push(Plot.dot(guo_M, {x: X, y: Y, symbol: "triangle", r: 3.2, fill: LIT, clip: true}));
  }
  if (cfg.lit && !M) {
    marks.push(...litLines(berkson_F, true, "triangle", 180));
    marks.push(Plot.dot(andersson_F, {x: X, y: Y, symbol: "square", r: 3.4, fill: LIT, clip: true}));
  }
  if (cfg.heuer) marks.push(...heuerMarks(cfg.heuer));
  marks.push(...modelMarks(m => M ? momentRows(cfg.data, m) : forceRows(cfg.data, m)));
  marks.push(...boxMarks(kind));
  marks.push(Plot.frame({stroke: "#000", strokeWidth: 1}));
  marks.push(Plot.axisX({ticks: M ? rotationTicks : dispTicks, tickFormat: fmt1, tickSize: 3.5, tickPadding: 1.5, label: null}));
  marks.push(Plot.axisY({ticks: M ? momentTicks : forceTicks, tickFormat: fmt0, tickSize: 3.5, tickPadding: 1.5, label: null}));
  marks.push(Plot.text([cfg.title], {frameAnchor: "top", dy: -7.5, text: d => d, fontSize: 10.5, lineAnchor: "middle", fill: "#222"}));
  marks.push(Plot.text([M ? "Rotation (°)" : "Déplacement (mm)"], {frameAnchor: "bottom", dy: 17.5, text: d => d, fontSize: 11, lineAnchor: "middle", fill: "#222"}));
  marks.push(Plot.text([M ? "Moment (Nm)" : "Force (N)"], {frameAnchor: "left", dx: M ? -25.5 : -30.5, rotate: -90, text: d => d, fontSize: 11, lineAnchor: "middle", fill: "#222"}));
  const svg = Plot.plot({
    width: 303, height: 311, marginLeft: 48, marginRight: 3, marginTop: 19, marginBottom: 30,
    x: {domain: M ? [-10, 10] : [-2, 2]},
    y: {domain: M ? [-15, 15] : [-400, 250]},
    style: {fontFamily: '"DejaVu Sans", sans-serif', fontSize: "8px", color: "#222", background: "transparent", overflow: "visible"},
    marks
  });
  svg.style.left = (left - 48) + "px";
  svg.style.top = top + "px";
  root.appendChild(svg);
  addBoxes(svg);
}

const momentRow1 = [
  {title: "Intacte", data: [intacte_FL, intacte_EX, intacte_FX, intacte_RO], gray: grayMomA, mean: grayMomA_mean, lit: true, vline: ["#111", 1]},
  {title: "Sans ITL", data: [itl_FL, itl_EX, itl_FX, itl_RO], gray: grayMomA, mean: grayMomA_mean, heuer: heuer_itl, green: green_itl, vline: ["#808080", 1.8]},
  {title: "Sans ISL/SSL", data: [isl_FL, isl_EX, isl_FX, isl_RO], gray: grayMomA, mean: grayMomA_mean, heuer: heuer_isl, green: green_isl, vline: ["#222", 1]},
  {title: "Sans CL", data: [cl_FL, cl_EX, cl_FX, cl_RO], gray: grayMomA, mean: grayMomA_mean, heuer: heuer_cl, green: green_cl, vline: ["#222", 1]}];
const forceRow1 = [
  {title: "Intacte", data: [intacte_LS, intacte_PS, intacte_AS, intacte_CP], gray: grayForceA, mean: grayForceA_mean, lit: true, vline: ["#111", 1]},
  {title: "Sans ITL", data: [shear_LS, itl_PS, itl_AS, comp_CP], gray: grayForceA, mean: grayForceA_mean, vline: ["#808080", 1.2]},
  {title: "Sans ISL/SSL", data: [shear_LS, isl_PS, isl_AS, comp_CP], gray: grayForceA, mean: grayForceA_mean, vline: ["#222", 1]},
  {title: "Sans CL", data: [shear_LS, cl_PS, cl_AS, comp_CP], gray: grayForceB, mean: grayForceB_mean, vline: ["#808080", 1.2]}];
const momentRow2 = [
  {title: "Sans FJ", data: [fj_FL, fj_EX, fj_FX, fj_RO], gray: grayMomB, mean: grayMomB_mean, heuer: heuer_fj, green: green_fj, vline: ["#808080", 1.8]},
  {title: "Sans FL", data: [fl_FL, fl_EX, fl_FX, fl_RO], gray: grayMomC, mean: grayMomC_mean, heuer: heuer_fl, green: green_fl, vline: ["#222", 1]},
  {title: "Sans ALL", data: [all_FL, all_EX, all_FX, all_RO], gray: grayMomD, mean: grayMomD_mean, heuer: heuer_all, green: green_all, vline: ["#222", 1]},
  {title: "Sans PLL", data: [pll_FL, pll_EX, pll_FX, pll_RO], gray: grayMomD, mean: grayMomD_mean, heuer: heuer_pll, green: green_pll, vline: ["#808080", 1.8]}];
const forceRow2 = [
  {title: "Sans FJ", data: [shear_LS, fj_PS, fj_AS, comp_CP], gray: grayForceB, mean: grayForceB_mean, vline: ["#222", 1]},
  {title: "Sans FL", data: [shear_LS, fl_PS, fl_AS, comp_CP], gray: grayForceB, mean: grayForceB_mean, vline: ["#808080", 1.2]},
  {title: "Sans ALL", data: [shear_LS, all_PS, all_AS, comp_CP], gray: grayForceB, mean: grayForceB_mean, vline: ["#808080", 1.2]},
  {title: "Sans PLL", data: [shear_LS, pll_PS, pll_AS, comp_CP], gray: grayForceB, mean: grayForceB_mean, vline: ["#000", 3]}];

const leftsTop = [48, 350, 654, 957], leftsBottom = [45, 349, 651, 954];
momentRow1.forEach((c, i) => drawPanel("M", c, leftsTop[i], 0));
forceRow1.forEach((c, i) => drawPanel("F", c, leftsTop[i], 303));
momentRow2.forEach((c, i) => drawPanel("M", c, leftsBottom[i], 624));
forceRow2.forEach((c, i) => drawPanel("F", c, leftsBottom[i], 927));

// ---------------- legend (inside last panel) ----------------
(function drawLegend() {
  const ns = "http://www.w3.org/2000/svg";
  const svg = document.createElementNS(ns, "svg");
  svg.setAttribute("width", 240); svg.setAttribute("height", 76);
  svg.style.left = "964px"; svg.style.top = "1124px";
  const add = (tag, attrs) => { const e = document.createElementNS(ns, tag); for (const k in attrs) e.setAttribute(k, attrs[k]); svg.appendChild(e); return e; };
  add("rect", {x: 3, y: 2, width: 226, height: 71, rx: 2, fill: "#fff", "fill-opacity": 0.82});
  const tri = (cx, cy, s, down) => down
    ? `M${cx - s},${cy - s * 0.6}L${cx + s},${cy - s * 0.6}L${cx},${cy + s}Z`
    : `M${cx - s},${cy + s * 0.6}L${cx + s},${cy + s * 0.6}L${cx},${cy - s}Z`;
  const txt = (x, y, s) => { const t = add("text", {x, y, "font-size": 6.5, "font-family": "DejaVu Sans", fill: "#222", "dominant-baseline": "middle"}); t.textContent = s; };
  const cx = 17.5;
  litNames.forEach((name, i) => {
    const y = 12 + i * 9.1;
    if (i === 0) add("path", {d: tri(cx, y, 3.2, false), fill: LIT});
    if (i === 1) { add("line", {x1: 10, x2: 25, y1: y, y2: y, stroke: LIT, "stroke-dasharray": "3,2"}); add("path", {d: tri(cx, y, 3.2, true), fill: LIT}); }
    if (i === 2) add("rect", {x: cx - 3, y: y - 3, width: 6, height: 6, fill: LIT});
    if (i === 3 || i === 4) {
      add("line", {x1: 10, x2: 25, y1: y, y2: y, stroke: LIT, "stroke-dasharray": i === 4 ? "3,2" : "none"});
      add("path", {d: `M${cx - 2.6},${y - 2.6}L${cx + 2.6},${y + 2.6}M${cx - 2.6},${y + 2.6}L${cx + 2.6},${y - 2.6}`, stroke: LIT, "stroke-width": 1, fill: "none"});
    }
    if (i === 5) add("line", {x1: 10, x2: 25, y1: y, y2: y, stroke: "#c4c4c4", "stroke-width": 2.2});
    if (i === 6) { add("line", {x1: 10, x2: 25, y1: y, y2: y, stroke: HEUER, "stroke-width": 1.1}); add("circle", {cx, cy: y, r: 3.4, fill: HEUER}); }
    txt(29, y, name);
  });
  modelNames.forEach((name, i) => {
    const y = 9.7 + i * 9.25;
    add("line", {x1: 151, x2: 168, y1: y, y2: y, stroke: modelColors[i], "stroke-width": 1.1});
    add("circle", {cx: 159.5, cy: y, r: 1.7, fill: modelColors[i]});
    txt(171, y, name);
  });
  root.appendChild(svg);
})();
</script></body></html>
